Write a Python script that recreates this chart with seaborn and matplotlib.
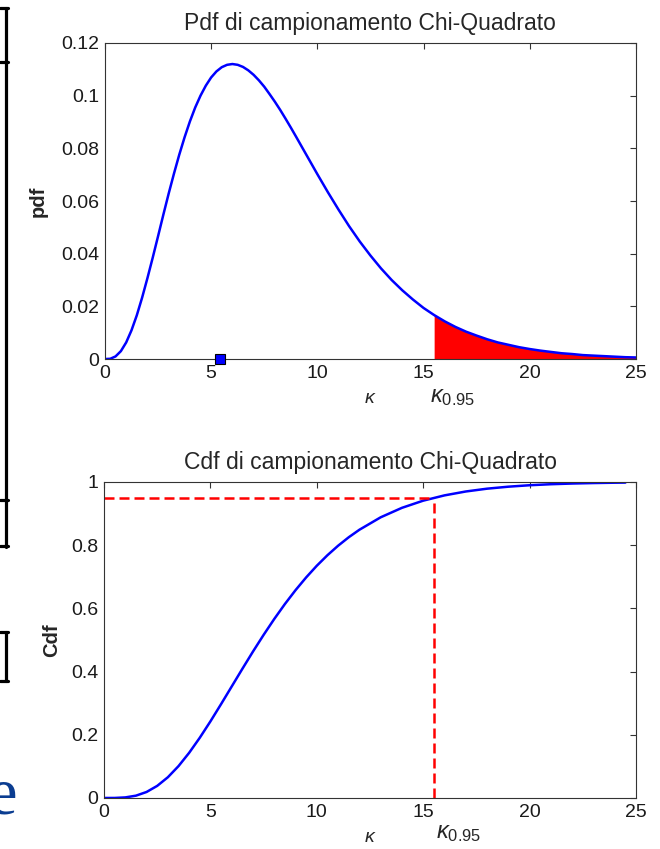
import numpy as np
import pandas as pd
import seaborn as sns
import matplotlib.pyplot as plt
from matplotlib.lines import Line2D

# valori (chi-quadrato, 8 gradi di liberta)
pdf_x = [0, 0.25, 0.5, 0.75, 1, 1.25, 1.5, 1.75, 2, 2.25, 2.5, 2.75, 3, 3.25, 3.5, 3.75,
         4, 4.25, 4.5, 4.75, 5, 5.25, 5.5, 5.75, 6, 6.25, 6.5, 6.75, 7, 7.25, 7.5, 7.75,
         8, 8.25, 8.5, 8.75, 9, 9.5,
         10, 10.5, 11, 11.5, 12, 12.5, 13, 13.5, 14, 14.5, 15, 15.5, 16, 16.5, 17, 17.5,
         18, 18.5, 19, 19.5, 20, 20.5, 21, 21.5, 22, 22.5, 23, 23.5, 24, 24.5, 25]
pdf_y = [0.0, 0.0001, 0.0010, 0.0030, 0.0063, 0.0109, 0.0166, 0.0233, 0.0307, 0.0385,
         0.0466, 0.0548, 0.0628, 0.0704, 0.0776, 0.0842,
         0.0902, 0.0955, 0.1000, 0.1038, 0.1069, 0.1092, 0.1108, 0.1117, 0.1120, 0.1117,
         0.1109, 0.1096, 0.1079, 0.1058, 0.1034, 0.1006,
         0.0977, 0.0946, 0.0913, 0.0879, 0.0844, 0.0773,
         0.0702, 0.0633, 0.0567, 0.0504, 0.0446, 0.0393, 0.0344, 0.0300, 0.0261, 0.0226,
         0.0194, 0.0167, 0.0143, 0.0122, 0.0104, 0.0089, 0.0075, 0.0063, 0.0054, 0.0045,
         0.0038, 0.0032, 0.0027, 0.0022, 0.0019, 0.0015, 0.0013, 0.0011, 0.0009, 0.0007,
         0.0006]

cdf_x = [0, 0.5, 1, 1.5, 2, 2.5, 3, 3.5, 4, 4.5, 5, 5.5, 6, 6.5, 7, 7.5, 8, 8.5, 9, 9.5,
         10, 10.5, 11, 11.5, 12, 13, 14, 15, 16, 17, 18, 19, 20, 21, 22, 23, 24, 24.5]
cdf_y = [0.0, 0.0001, 0.0018, 0.0073, 0.0190, 0.0383, 0.0656, 0.1008, 0.1429, 0.1906,
         0.2424, 0.2970, 0.3528, 0.4086, 0.4634, 0.5162, 0.5665, 0.6138, 0.6577, 0.6981,
         0.7350, 0.7683, 0.7983, 0.8251, 0.8488, 0.8882, 0.9182, 0.9409, 0.9576, 0.9699,
         0.9788, 0.9851, 0.9897, 0.9929, 0.9951, 0.9966, 0.9977, 0.9981]

k95 = 15.5      # quantile 0.95
p95 = 0.95
marker_x = 5.4  # quadratino blu sull'asse

xticks = [0, 5, 10, 15, 20, 25]
pdf_ticks = [0, 0.02, 0.04, 0.06, 0.08, 0.1, 0.12]
pdf_labels = ["0", "0.02", "0.04", "0.06", "0.08", "0.1", "0.12"]
cdf_ticks = [0, 0.2, 0.4, 0.6, 0.8, 1]
cdf_labels = ["0", "0.2", "0.4", "0.6", "0.8", "1"]

sns.set_style("white")
plt.rcParams['font.family'] = ['Liberation Sans', 'DejaVu Sans']
plt.rcParams['mathtext.fontset'] = 'custom'
plt.rcParams['mathtext.rm'] = 'Liberation Sans'
plt.rcParams['mathtext.it'] = 'Liberation Sans:italic'

fig = plt.figure(figsize=(6.6, 8.49), dpi=100)
ax1 = fig.add_axes([0.159, 0.5771, 0.8045, 0.3723])
ax2 = fig.add_axes([0.1576, 0.0601, 0.8061, 0.3722])


def style(ax):
    ax.set_xlim(0, 25)
    ax.set_xticks(xticks)
    ax.set_xticklabels([str(t) for t in xticks])
    ax.tick_params(direction='in', length=4.5, width=0.8, top=True, right=True,
                   labelsize=14, pad=4, color='#333333', labelcolor='#1a1a1a')
    for s in ax.spines.values():
        s.set_linewidth(0.8)
        s.set_color('#333333')


# Pdf
df_pdf = pd.DataFrame({"x": pdf_x, "y": pdf_y})
sns.lineplot(data=df_pdf, x="x", y="y", ax=ax1, color="blue", lw=1.8)
tail = df_pdf[df_pdf.x >= k95]
ax1.fill_between(tail.x, tail.y, color="red", lw=0)
ax1.plot([marker_x], [0], 's', mfc='blue', mec='black', mew=0.8, ms=7.5, clip_on=False, zorder=5)
style(ax1)
ax1.set_ylim(0, 0.12)
ax1.set_yticks(pdf_ticks)
ax1.set_yticklabels(pdf_labels)
ax1.set_title("Pdf di campionamento Chi-Quadrato", fontsize=16.5, pad=9)
ax1.set_ylabel("pdf", fontsize=14.5, fontweight='bold', labelpad=10)
ax1.set_xlabel(r"$\kappa$", fontsize=14, labelpad=6)
ax1.text(15.3, -0.085, r"$\kappa_{\mathit{0.95}}$", transform=ax1.get_xaxis_transform(),
         ha='left', va='top', fontsize=17)

# Cdf
df_cdf = pd.DataFrame({"x": cdf_x, "y": cdf_y})
sns.lineplot(data=df_cdf, x="x", y="y", ax=ax2, color="blue", lw=1.8)
ax2.plot([0, k95], [p95, p95], color='red', lw=1.8, dashes=(4, 2))
ax2.plot([k95, k95], [0, p95], color='red', lw=1.8, dashes=(4, 2))
style(ax2)
ax2.set_ylim(0, 1)
ax2.set_yticks(cdf_ticks)
ax2.set_yticklabels(cdf_labels)
ax2.set_title("Cdf di campionamento Chi-Quadrato", fontsize=16.5, pad=9)
ax2.set_ylabel("Cdf", fontsize=14.5, fontweight='bold', labelpad=7)
ax2.set_xlabel(r"$\kappa$", fontsize=14, labelpad=6)
ax2.text(15.6, -0.075, r"$\kappa_{\mathit{0.95}}$", transform=ax2.get_xaxis_transform(),
         ha='left', va='top', fontsize=17)

# resti della slide sul bordo sinistro
W, H = 660, 849
def seg(x0, y0, x1, y1):
    fig.add_artist(Line2D([x0 / W, x1 / W], [1 - y0 / H, 1 - y1 / H],
                          transform=fig.transFigure, color='black', lw=2.3))

seg(6.5, 7.5, 6.5, 547)
for yy in [7.5, 61.5, 500, 546]:
    seg(0, yy, 8, yy)
seg(6.5, 632, 6.5, 681)
seg(0, 632, 8, 632)
seg(0, 681, 8, 681)
fig.text(17 / W, 1 - 814 / H, "e", ha='right', va='baseline', fontsize=48,
         family='Liberation Serif', color='#0b3d91')

fig.savefig("out.png", dpi=100)
